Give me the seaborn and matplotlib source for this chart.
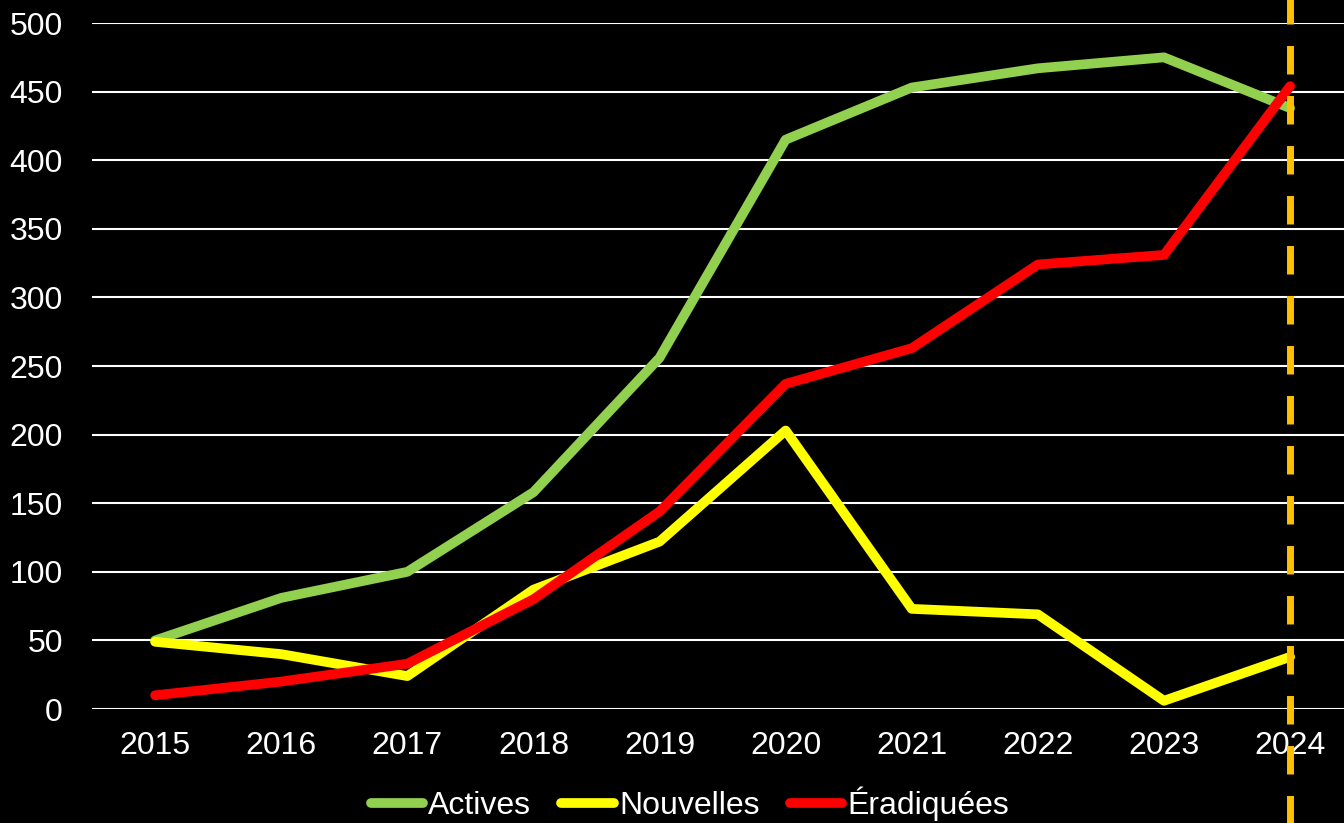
import pandas as pd
import numpy as np
import matplotlib.pyplot as plt
import seaborn as sns

years = ['2015', '2016', '2017', '2018', '2019', '2020', '2021', '2022', '2023', '2024']
actives = [50, 81, 100, 158, 256, 415, 453, 467, 475, 438]
nouvelles = [49, 40, 24, 87, 122, 203, 73, 69, 6, 38]
eradiquees = [10, 20, 33, 80, 144, 237, 263, 324, 331, 454]

series = ['Actives', 'Nouvelles', 'Éradiquées']
colors = ['#92D050', '#FFFF00', '#FF0000']

df = pd.DataFrame({'year': years * 3,
                   'x': list(range(len(years))) * 3,
                   'val': actives + nouvelles + eradiquees,
                   'serie': [s for s in series for _ in years]})

sns.set_style('dark', {'axes.facecolor': 'black', 'figure.facecolor': 'black'})
plt.rcParams['font.family'] = ['Liberation Sans', 'DejaVu Sans']

fig = plt.figure(figsize=(13.44, 8.23), dpi=100)
ax = fig.add_axes([0.0685, 0.1385, 0.9383, 0.8335])
ax.set_facecolor('black')

ax = sns.lineplot(data=df, x='x', y='val', hue='serie', palette=dict(zip(series, colors)),
                  linewidth=7, ax=ax, solid_capstyle='round', solid_joinstyle='round')

# dashed marker for the last year, running over the whole figure height
ax.axvline(9, ymin=-0.17, ymax=1.04, color='#FFC000', lw=5, dashes=(4.1, 3.1),
           zorder=10, clip_on=False)

ax.set_xlim(-0.5, 9.5)
ax.set_ylim(0, 500)
ax.set_yticks(np.arange(0, 501, 50))
ax.set_xticks(range(len(years)))
ax.set_xticklabels(years)
ax.grid(axis='y', color='white', lw=1.5)
ax.grid(axis='x', visible=False)
ax.set_axisbelow(True)
for s in ax.spines.values():
    s.set_visible(False)
ax.tick_params(colors='white', labelsize=23, length=0)
ax.tick_params(axis='x', pad=16)
ax.tick_params(axis='y', pad=21)
ax.set_xlabel('')
ax.set_ylabel('')

leg = ax.legend(loc='lower center', bbox_to_anchor=(0.474, -0.205), ncol=3, frameon=False,
                fontsize=23, handlelength=1.65, handletextpad=0.15, columnspacing=0.95,
                labelcolor='white')
for h in leg.get_lines():
    h.set_linewidth(7)
    h.set_solid_capstyle('round')

fig.savefig('out.png', dpi=100, facecolor='black')
